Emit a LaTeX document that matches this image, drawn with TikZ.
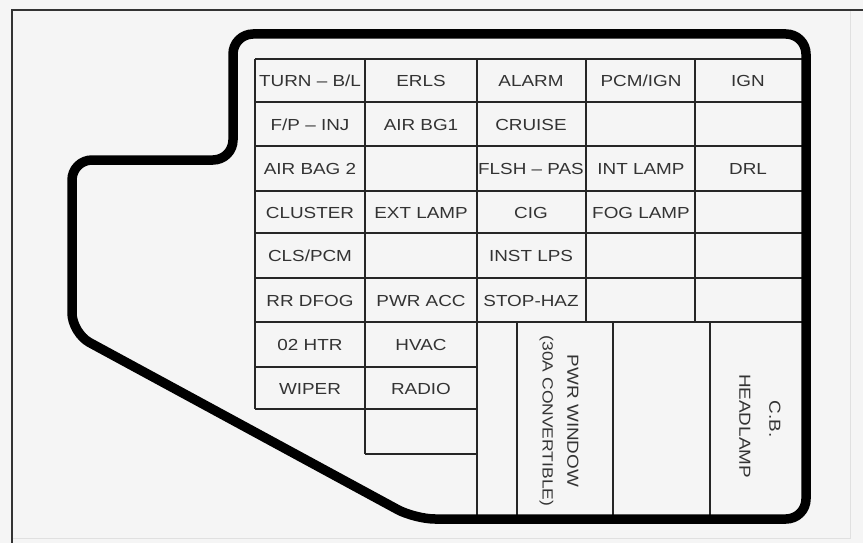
\documentclass[tikz,border=0pt]{standalone}
\usepackage{fontspec}
\newfontfamily\labfont[FakeStretch=1.18]{Liberation Sans}
\definecolor{bg}{HTML}{F5F5F5}
\definecolor{txt}{HTML}{333333}
\begin{document}
\begin{tikzpicture}[x=1pt,y=-1pt,
  lab/.style={font=\labfont\fontsize{16}{19}\selectfont, text=txt, inner sep=0pt,
              text height=11.5pt, text depth=0pt, anchor=center},
  vlab/.style={lab, rotate=-90},
  gridline/.style={line width=1.4pt, draw=black!85},
  outline/.style={line width=9.5pt, draw=black, rounded corners=20pt, line join=round},
  frameline/.style={line width=1.5pt, draw=black!80},
  faintline/.style={line width=1pt, draw=black!12}]
\fill[bg] (0,0) rectangle (863,543);
\useasboundingbox (0,0) rectangle (863,543);
% outer frame
\draw[faintline] (850,10) -- (850,538) -- (12,538);
\draw[frameline] (12,543) -- (12,10) -- (863,10);
% grid: horizontal lines
\foreach \y in {59,102,146,191,233,278,322}
  \draw[gridline] (255,\y) -- (806,\y);
\draw[gridline] (255,367) -- (477,367);
\draw[gridline] (255,409) -- (477,409);
\draw[gridline] (365,454) -- (477,454);
% grid: vertical lines
\draw[gridline] (255,59) -- (255,409);
\draw[gridline] (365,59) -- (365,454);
\draw[gridline] (477,59) -- (477,519);
\draw[gridline] (586,59) -- (586,322);
\draw[gridline] (695,59) -- (695,322);
\foreach \x in {517,613,710}
  \draw[gridline] (\x,322) -- (\x,519);
% thick outline
\draw[outline] (500,34) -- (806,34) -- (806,519) -- (415,519) -- (72,333)
  -- (72,160) -- (233,160) -- (233,34) -- cycle;
% labels
\node[lab] (turn) at (310,81) {TURN – B/L};
\node[lab] (erls) at (421,81) {ERLS};
\node[lab] (alarm) at (531,81) {ALARM};
\node[lab] (pcmign) at (641,81) {PCM/IGN};
\node[lab] (ign) at (748,81) {IGN};
\node[lab] (fpinj) at (310,124.5) {F/P – INJ};
\node[lab] (airbg1) at (421,124.5) {AIR BG1};
\node[lab] (cruise) at (531,124.5) {CRUISE};
\node[lab] (airbag2) at (310,169) {AIR BAG 2};
\node[lab] (flsh) at (531,169) {FLSH – PAS};
\node[lab] (intlamp) at (641,169) {INT LAMP};
\node[lab] (drl) at (748,169) {DRL};
\node[lab] (cluster) at (310,212.5) {CLUSTER};
\node[lab] (extlamp) at (421,212.5) {EXT LAMP};
\node[lab] (cig) at (531,212.5) {CIG};
\node[lab] (foglamp) at (641,212.5) {FOG LAMP};
\node[lab] (clspcm) at (310,256) {CLS/PCM};
\node[lab] (instlps) at (531,256) {INST LPS};
\node[lab] (rrdfog) at (310,300.5) {RR DFOG};
\node[lab] (pwracc) at (421,300.5) {PWR ACC};
\node[lab] (stophaz) at (531,300.5) {STOP-HAZ};
\node[lab] (htr) at (310,345) {02 HTR};
\node[lab] (hvac) at (421,345) {HVAC};
\node[lab] (wiper) at (310,388.5) {WIPER};
\node[lab] (radio) at (421,388.5) {RADIO};
\node[vlab] (pwrwin) at (573,421) {PWR WINDOW};
\node[vlab, font=\labfont\fontsize{14.8}{18}\selectfont, text height=10.6pt] (conv) at (548,421) {(30A CONVERTIBLE)};
\node[vlab] (cb) at (775,419) {C.B.};
\node[vlab] (headlamp) at (745,426) {HEADLAMP};
\end{tikzpicture}
\end{document}
